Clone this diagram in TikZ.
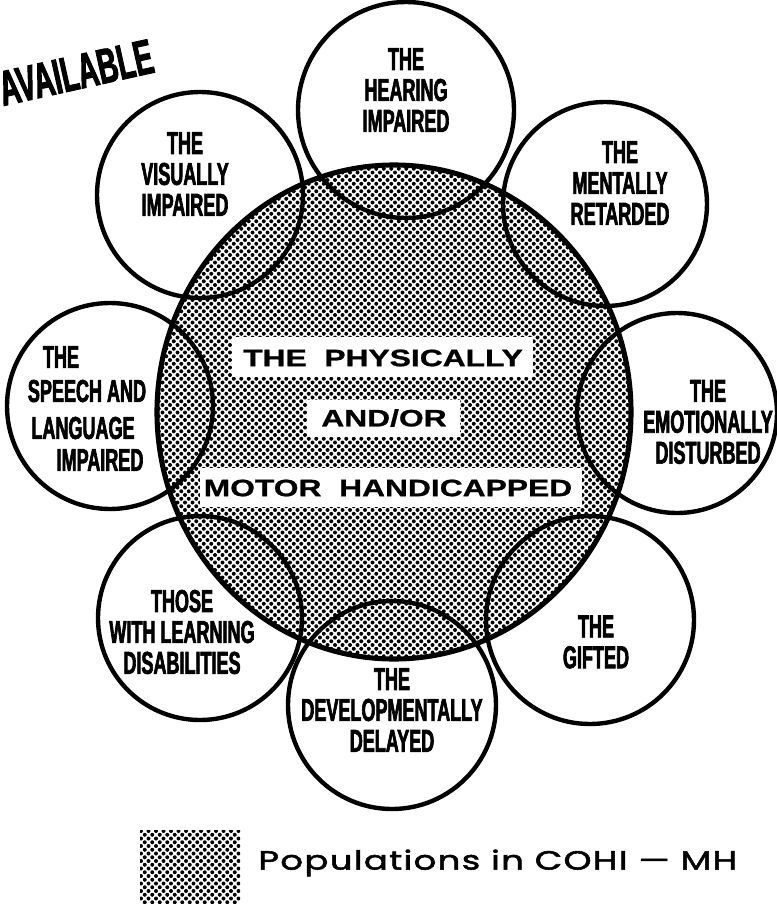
\documentclass[tikz,border=0pt]{standalone}
\usepackage{fontspec}
\setmainfont{Liberation Sans}
\newfontfamily\condfont{Liberation Sans Bold}[FakeStretch=0.57, FakeBold=2]
\newfontfamily\widefont{Liberation Sans Bold}[FakeStretch=1.34, FakeBold=1]
\newfontfamily\legfont{Poppins}[FakeBold=2, FakeStretch=1.35, LetterSpace=5]
\tikzset{
  lbl/.style={font=\condfont\fontsize{18}{17.6}\selectfont, align=center, inner sep=0pt},
  ctr/.style={font=\widefont\fontsize{13.5}{14}\selectfont, inner sep=0pt},
  ring/.style={line width=2.5pt},
  bigring/.style={line width=2.9pt},
  whitebox/.style={fill=white, draw=none},
  dotfill/.style={fill=black}
}
\begin{document}
\begin{tikzpicture}[x=0.02cm, y=-0.02cm]
\useasboundingbox (0,0) rectangle (777,906);
% shaded central population (halftone dots)
\begin{scope}
\clip (394,412) ellipse [x radius=237, y radius=247];
\foreach \j in {0,...,132}{
  \pgfmathsetmacro\yy{165+\j*3.75}
  \pgfmathsetmacro\xo{155+mod(\j,2)*3.75}
  \path[dotfill] \foreach \i in {0,...,64}{ (\xo+\i*7.5,\yy) circle (2) };
}
\end{scope}
% white boxes behind central title
\fill[whitebox] (232,337) rectangle (533,377);
\fill[whitebox] (307,400) rectangle (460,437);
\fill[whitebox] (200,468) rectangle (582,507);
\node[ctr] (t1) at (383,358) {THE\ \ PHYSICALLY};
\node[ctr] (t2) at (384,418) {AND/OR};
\node[ctr] (t3) at (388,488) {MOTOR\ \ HANDICAPPED};
% outlines
\draw[bigring] (394,412) ellipse [x radius=237, y radius=247];
\draw[ring] (406,110) circle (108);
\draw[ring] (605,204) circle (102);
\draw[ring] (200,195) circle (103);
\draw[ring] (110,406) circle (103);
\draw[ring] (677,413) circle (100);
\draw[ring] (590,620) circle (104);
\draw[ring] (200,618) circle (102);
\draw[ring] (392,705) circle (104);
% labels
\node[lbl] (hear) at (406,90) {THE\\HEARING\\IMPAIRED};
\node[lbl] (ment) at (620,183) {THE\\MENTALLY\\RETARDED};
\node[lbl] (vis) at (185,174) {THE\\VISUALLY\\IMPAIRED};
\node[lbl] (sp1) at (61,357) {THE};
\node[lbl] (sp2) at (87,391) {SPEECH AND};
\node[lbl] (sp3) at (83,428) {LANGUAGE};
\node[lbl] (sp4) at (100,460) {IMPAIRED};
\node[lbl] (emo) at (708,422) {THE\\EMOTIONALLY\\DISTURBED};
\node[lbl] (gift) at (596,642) {THE\\GIFTED};
\node[lbl] (learn) at (182,632) {THOSE\\WITH LEARNING\\DISABILITIES};
\node[lbl] (dev) at (392,710) {THE\\DEVELOPMENTALLY\\DELAYED};
% stamp
\node[font=\condfont\fontsize{28}{28}\selectfont, anchor=base west, rotate=12.5, inner sep=0pt] (avail) at (3,106) {AVAILABLE};
% legend
\begin{scope}
\clip (140,830) rectangle (240,903);
\foreach \j in {0,...,20}{
  \pgfmathsetmacro\yy{831+\j*3.75}
  \pgfmathsetmacro\xo{141+mod(\j,2)*3.75}
  \path[dotfill] \foreach \i in {0,...,14}{ (\xo+\i*7.5,\yy) circle (2) };
}
\end{scope}
\node[font=\legfont\fontsize{15}{16}\selectfont, anchor=west, inner sep=0pt] (leg) at (258,863) {Populations in COHI — MH};
\end{tikzpicture}
\end{document}
